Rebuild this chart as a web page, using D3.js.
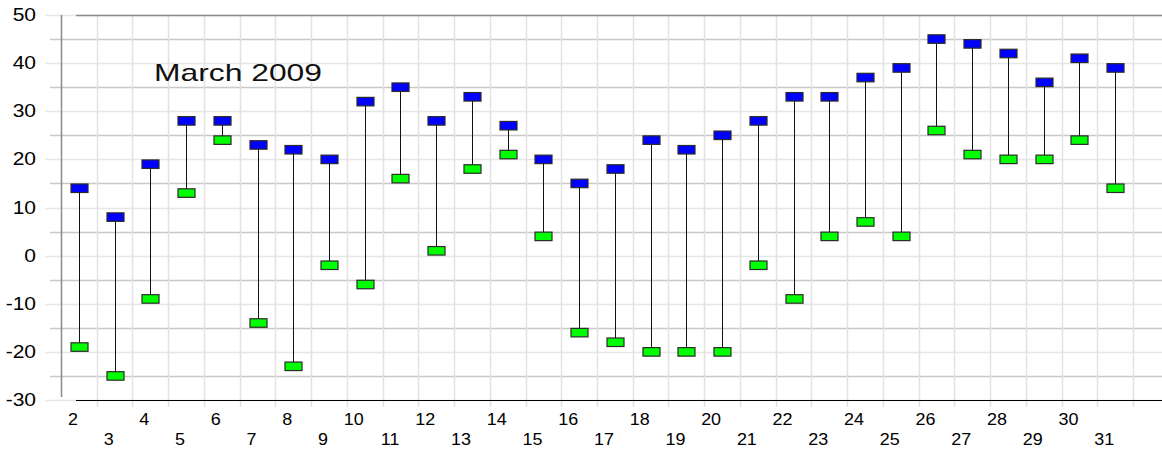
<!DOCTYPE html>
<html>
<head>
<meta charset="utf-8">
<script src="https://cdn.jsdelivr.net/npm/d3@7"></script>
<style>
  body { margin: 0; background: #fff; }
  svg { display: block; }
</style>
</head>
<body>
<div id="wrapper"></div>
<script>
// daily temperature range, March 2009
const days = [2, 3, 4, 5, 6, 7, 8, 9, 10, 11, 12, 13, 14, 15, 16, 17, 18, 19, 20, 21, 22, 23, 24, 25, 26, 27, 28, 29, 30, 31]
const highs = [14, 8, 19, 28, 28, 23, 22, 20, 32, 35, 28, 33, 27, 20, 15, 18, 24, 22, 25, 28, 33, 33, 37, 39, 45, 44, 42, 36, 41, 39]
const lows = [-19, -25, -9, 13, 24, -14, -23, -2, -6, 16, 1, 18, 21, 4, -16, -18, -20, -20, -20, -2, -9, 4, 7, 4, 26, 21, 20, 20, 24, 14]
const yTicks = [-30, -20, -10, 0, 10, 20, 30, 40, 50]
const title = 'March 2009'

const data = days.map((d, i) => ({ day: d, high: highs[i], low: lows[i] }))

const dms = {
    width: 1162,
    height: 451,
    left: 61,
    right: 1133,
    top: 15,
    bottom: 400
}

const svg = d3.select('#wrapper')
    .append('svg')
    .attr('width', dms.width)
    .attr('height', dms.height)

const xScale = d3.scaleBand()
    .domain(days)
    .range([dms.left, dms.right])
    .padding(0)

const yScale = d3.scaleLinear()
    .domain([-30, 50])
    .range([dms.bottom, dms.top])

const cx = d => xScale(d) + xScale.bandwidth() / 2

// stretch text sideways like the original renderer did
const stretch = (sel, k) => sel.each(function () {
    const w = this.getComputedTextLength()
    d3.select(this)
        .attr('textLength', w * k)
        .attr('lengthAdjust', 'spacingAndGlyphs')
})

// horizontal grid, every 5 degrees
const gridVals = d3.range(-30, 51, 5)
svg.append('g')
    .selectAll('line')
    .data(gridVals)
    .join('line')
    .attr('x1', d => d % 10 === 0 ? 45 : 50)
    .attr('x2', dms.width)
    .attr('y1', d => Math.round(yScale(d)) + 0.5)
    .attr('y2', d => Math.round(yScale(d)) + 0.5)
    .attr('stroke', d => d % 10 === 0 ? '#e6e6e6' : '#c8c8c8')
    .attr('stroke-width', 1.5)

// vertical grid at band boundaries
svg.append('g')
    .selectAll('line')
    .data(days)
    .join('line')
    .attr('x1', d => Math.round(xScale(d) + xScale.bandwidth()) + 0.5)
    .attr('x2', d => Math.round(xScale(d) + xScale.bandwidth()) + 0.5)
    .attr('y1', dms.top)
    .attr('y2', dms.bottom + 7)
    .attr('stroke', '#e2e2e2')
    .attr('stroke-width', 1.5)

// frame lines
svg.append('line')
    .attr('x1', dms.left + 0.5).attr('x2', dms.left + 0.5)
    .attr('y1', dms.top).attr('y2', dms.bottom - 3)
    .attr('stroke', '#8a8a8a').attr('stroke-width', 1.5)
svg.append('line')
    .attr('x1', 76).attr('x2', dms.width)
    .attr('y1', dms.top + 0.5).attr('y2', dms.top + 0.5)
    .attr('stroke', '#8a8a8a').attr('stroke-width', 1.5)
svg.append('line')
    .attr('x1', 76).attr('x2', dms.width)
    .attr('y1', dms.bottom + 0.5).attr('y2', dms.bottom + 0.5)
    .attr('stroke', '#000').attr('stroke-width', 1.2)

// y axis labels
const yAxis = svg.append('g')
    .attr('transform', 'translate(36,0)')
    .call(d3.axisLeft(yScale).tickValues(yTicks).tickFormat(d => String(d)).tickSize(0).tickPadding(0))
yAxis.select('.domain').remove()
yAxis.selectAll('text')
    .attr('x', 0)
    .style('text-anchor', 'end')
    .style('font-family', 'Liberation Sans, Arial, sans-serif')
    .style('font-size', '17.5px')
    .attr('fill', '#000')
    .call(stretch, 1.2)

// x axis labels, alternating rows
const xAxis = svg.append('g')
    .attr('transform', `translate(0,${dms.bottom})`)
    .call(d3.axisBottom(xScale).tickFormat(d => String(d)).tickSize(0).tickPadding(0))
xAxis.select('.domain').remove()
xAxis.selectAll('text')
    .attr('x', -1)
    .attr('dy', null)
    .attr('y', (d, i) => i % 2 === 0 ? 25 : 45)
    .style('text-anchor', 'end')
    .style('font-family', 'Liberation Sans, Arial, sans-serif')
    .style('font-size', '16px')
    .attr('fill', '#000')
    .call(stretch, 1.12)

// stems
const marks = svg.append('g')
    .selectAll('g')
    .data(data)
    .join('g')

marks.append('line')
    .attr('x1', d => Math.round(cx(d.day)) + 0.5)
    .attr('x2', d => Math.round(cx(d.day)) + 0.5)
    .attr('y1', d => yScale(d.high))
    .attr('y2', d => yScale(d.low))
    .attr('stroke', '#111')
    .attr('stroke-width', 1)

const boxW = 17
const boxH = 8.5
marks.append('rect')
    .attr('x', d => Math.round(cx(d.day)) - boxW / 2 + 0.5)
    .attr('y', d => yScale(d.low) - boxH / 2)
    .attr('width', boxW)
    .attr('height', boxH)
    .attr('fill', '#00ff00')
    .attr('stroke', '#2a2a2a')
    .attr('stroke-width', 1.2)
marks.append('rect')
    .attr('x', d => Math.round(cx(d.day)) - boxW / 2 + 0.5)
    .attr('y', d => yScale(d.high) - boxH / 2)
    .attr('width', boxW)
    .attr('height', boxH)
    .attr('fill', '#0000ff')
    .attr('stroke', '#2a2a2a')
    .attr('stroke-width', 1.2)

// title
svg.append('text')
    .attr('x', 154)
    .attr('y', 81)
    .attr('textLength', 168)
    .attr('lengthAdjust', 'spacingAndGlyphs')
    .style('font-family', 'Liberation Sans, Arial, sans-serif')
    .style('font-size', '24px')
    .attr('fill', '#111')
    .text(title)
</script>
</body>
</html>
